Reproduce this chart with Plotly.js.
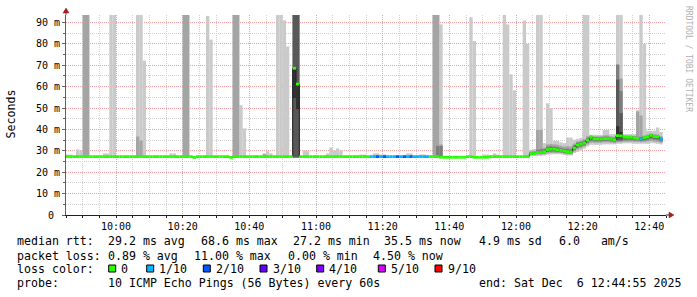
<!DOCTYPE html>
<html>
<head>
<meta charset="utf-8">
<script src="https://cdn.plot.ly/plotly-3.0.1.min.js"></script>
<style>html,body{margin:0;padding:0;background:#fff;}#chart{width:697px;height:297px;}</style>
</head>
<body>
<div id="chart"></div>
<script>
const _ = null;
// one value per 60 s step, starting 2025-12-06 09:45
const startTime = '2025-12-06 09:45';
const N = 179;

// median rtt (ms)
const median = [
27.3,27.3,27.3,27.3,27.3,27.3,27.3,27.3,27.3,27.3,
27.3,27.3,27.3,27.3,27.3,27.3,27.3,27.3,27.3,27.3,
27.3,27.3,27.3,27.3,27.3,27.3,27.3,27.3,27.3,27.3,
27.3,27.3,27.3,27.3,27.3,27.3,27.3,27.3,26.9,27.3,
27.3,27.3,27.3,27.3,27.3,27.3,27.3,27.3,27.3,26.9,
27.3,27.3,27.3,27.3,27.3,27.3,27.3,27.3,27.3,27.3,
27.3,27.3,27.3,27.3,27.3,27.3,27.3,27.3,68.6,61.2,
27.3,27.3,27.3,27.3,27.3,27.3,27.3,27.3,27.3,27.3,
27.3,27.3,27.3,27.3,27.3,27.3,27.3,27.3,27.3,27.3,
27.3,27.3,27.3,27.3,27.3,27.3,27.3,27.3,27.3,27.3,
27.3,27.3,27.3,27.3,27.3,27.3,27.3,27.3,27.3,27.3,
27.3,27.3,27.0,27.0,27.0,27.0,27.0,27.0,27.0,27.0,
27.3,27.3,27.0,27.0,27.0,27.0,27.0,27.3,27.3,27.3,
27.3,27.3,27.3,27.3,27.3,27.3,27.3,27.3,27.3,28.7,
28.7,29.2,29.2,29.6,30.6,30.8,30.8,30.5,30.2,29.9,
29.6,29.4,31.3,32.7,33.2,33.6,35.0,36.3,35.6,35.6,
35.6,35.7,35.7,35.5,35.2,37.1,37.0,36.4,36.3,36.3,
35.9,35.8,35.6,36.2,36.4,37.2,36.7,36.5,35.5
];

// lost pings out of 10 per step
const loss = [
0,0,0,0,0,0,0,0,0,0, 0,0,0,0,0,0,0,0,0,0,
0,0,0,0,0,0,0,0,0,0, 0,0,0,0,0,0,0,0,0,0,
0,0,0,0,0,0,0,0,0,0, 0,0,0,0,0,0,0,0,0,0,
0,0,0,0,0,0,0,0,0,0, 0,0,0,0,0,0,0,0,0,0,
0,0,0,0,0,0,0,0,0,0,
0,1,1,2,1,2,1,1,1,2,
1,2,1,2,1,1,1,1,1,0,
0,0,0,0,0,0,0,0,0,0, 0,0,0,0,0,0,0,0,0,0,
0,0,0,0,0,0,0,0,0,0, 0,0,0,0,0,0,0,0,0,0,
0,0,0,0,0,0,0,0,0,0, 0,0,0,0,0,0,0,0,0,0,
0,0,1,0,0,0,0,0,1
];

// smoke layer 1 (outer ping pair)
const smoke1Lo = [
27.0,27.0,_,27.0,27.0,27.0,27.0,_,_,_,
_,27.0,27.0,27.0,27.0,_,_,_,_,_,
_,27.0,27.0,27.0,_,_,_,_,_,_,
_,27.0,27.0,_,_,27.0,27.0,_,_,_,
_,_,27.0,27.0,_,_,_,_,_,_,
27.0,27.0,27.0,27.0,_,_,_,_,_,27.0,
27.0,27.0,_,27.0,27.0,27.0,27.0,_,26.9,26.9,
_,27.0,27.0,_,_,_,_,_,27.0,27.0,
27.0,27.0,27.0,_,_,_,_,_,27.0,27.0,
_,_,27.0,27.0,27.0,27.0,_,_,_,_,
_,_,27.0,27.0,_,_,27.0,27.0,_,_,
27.0,27.0,27.0,_,_,_,_,_,_,_,
_,27.0,27.0,_,_,27.0,27.0,_,27.0,27.0,
_,27.0,27.0,27.0,27.0,_,_,27.0,27.0,27.6,
27.6,27.6,27.6,27.8,28.2,28.3,28.4,28.4,28.4,28.0,
27.8,27.8,29.0,29.5,30.2,31.0,32.0,32.8,32.8,32.8,
32.8,33.0,33.0,33.0,33.0,33.3,33.3,33.5,33.5,33.5,
33.3,33.3,33.3,33.3,33.3,33.6,33.5,33.3,33.0
];
const smoke1Hi = [
28.3,28.3,_,30.6,30.2,100,100,_,_,_,
_,28.8,28.8,100,100,_,_,_,_,_,
_,100,100,72.2,_,_,_,_,_,_,
_,28.8,28.8,_,_,100,100,_,_,_,
_,_,93.1,82.0,_,_,_,_,_,_,
100,100,51.3,40.5,_,_,_,_,_,28.8,
29.8,28.8,_,100,100,91.0,78.8,_,100,100,
_,30.2,30.2,_,_,_,_,_,28.8,31.6,
30.2,31.1,30.2,_,_,_,_,_,28.3,28.3,
_,_,28.8,28.8,28.3,28.3,_,_,_,_,
_,_,28.8,28.8,_,_,28.3,28.3,_,_,
100,100,89.1,_,_,_,_,_,_,_,
_,92.5,81.3,_,_,28.3,28.3,_,28.8,28.3,
_,100,89.1,65.8,58.3,_,_,90.9,80.0,30.5,
30.8,100,100,33.6,52.2,50.0,34.7,34.7,34.0,33.6,
36.2,36.2,35.2,35.6,36.0,100,100,37.5,37.5,37.5,
37.5,39.8,39.8,37.8,37.8,100,100,37.8,37.8,37.8,
37.8,49.0,100,80.0,39.4,39.4,39.4,40.9,38.8
];

// smoke layer 2
const smoke2Lo = [
_,_,_,_,_,27.0,27.0,_,_,_,
_,_,_,_,_,_,_,_,_,_,
_,27.0,27.0,_,_,_,_,_,_,_,
_,_,_,_,_,27.0,27.0,_,_,_,
_,_,_,_,_,_,_,_,_,_,
27.0,27.0,_,_,_,_,_,_,_,27.0,
_,_,_,_,_,_,_,_,26.9,26.9,
_,_,_,_,_,_,_,_,_,_,
_,_,_,_,_,_,_,_,_,_,
_,_,_,_,_,_,_,_,_,_,
_,_,_,_,_,_,_,_,_,_,
27.0,27.0,27.0,_,_,_,_,_,_,_,
_,_,_,_,_,_,_,_,_,_,
_,_,_,_,_,_,_,_,_,28.0,
28.0,28.2,28.2,28.4,28.8,29.0,29.0,29.0,28.9,28.6,
28.4,28.3,29.8,30.6,31.2,32.0,33.0,33.8,33.8,33.8,
33.8,34.0,34.0,33.8,33.6,34.0,34.0,34.3,34.3,34.3,
34.2,34.2,34.0,34.2,34.4,34.6,34.4,34.2,33.8
];
const smoke2Hi = [
_,_,_,_,_,100,100,_,_,_,
_,_,_,_,_,_,_,_,_,_,
_,36.7,34.8,_,_,_,_,_,_,_,
_,_,_,_,_,100,100,_,_,_,
_,_,_,_,_,_,_,_,_,_,
100,100,_,_,_,_,_,_,_,28.5,
_,_,_,_,_,_,_,_,100,100,
_,_,_,_,_,_,_,_,_,_,
_,_,_,_,_,_,_,_,_,_,
_,_,_,_,_,_,_,_,_,_,
_,_,_,_,_,_,_,_,_,_,
100,100,33.0,_,_,_,_,_,_,_,
_,_,_,_,_,_,_,_,_,_,
_,_,_,_,_,_,_,_,_,29.8,
30.0,39.8,39.8,31.5,33.0,33.2,33.0,32.8,32.4,32.0,
32.2,32.0,33.4,34.4,34.8,35.5,36.8,37.2,36.8,36.8,
36.8,37.2,37.2,36.8,36.6,70.3,63.8,37.2,37.2,37.2,
37.0,48.4,46.5,37.2,37.6,38.2,37.8,37.6,36.8
];

// smoke layer 3
const smoke3Lo = [
_,_,_,_,_,_,_,_,_,_, _,_,_,_,_,_,_,_,_,_,
_,_,_,_,_,_,_,_,_,_, _,_,_,_,_,_,_,_,_,_,
_,_,_,_,_,_,_,_,_,_, _,_,_,_,_,_,_,_,_,_,
_,_,_,_,_,_,_,_,26.9,26.9,
_,_,_,_,_,_,_,_,_,_, _,_,_,_,_,_,_,_,_,_,
_,_,_,_,_,_,_,_,_,_, _,_,_,_,_,_,_,_,_,_,
_,27.0,27.0,_,_,_,_,_,_,_,
_,_,_,_,_,_,_,_,_,_,
_,_,_,_,_,_,_,_,_,28.2,
28.2,28.6,28.6,28.8,29.4,29.6,29.6,29.5,29.3,29.0,
28.8,28.7,30.3,31.4,32.0,32.6,33.8,34.6,34.4,34.4,
34.4,34.6,34.6,34.4,34.2,34.5,34.5,34.9,34.9,34.9,
34.8,34.8,34.6,34.8,35.0,35.5,35.2,35.0,34.4
];
const smoke3Hi = [
_,_,_,_,_,_,_,_,_,_, _,_,_,_,_,_,_,_,_,_,
_,_,_,_,_,_,_,_,_,_, _,_,_,_,_,_,_,_,_,_,
_,_,_,_,_,_,_,_,_,_, _,_,_,_,_,_,_,_,_,_,
_,_,_,_,_,_,_,_,100,100,
_,_,_,_,_,_,_,_,_,_, _,_,_,_,_,_,_,_,_,_,
_,_,_,_,_,_,_,_,_,_, _,_,_,_,_,_,_,_,_,_,
_,32.3,32.3,_,_,_,_,_,_,_,
_,_,_,_,_,_,_,_,_,_,
_,_,_,_,_,_,_,_,_,29.4,
29.5,30.5,30.8,30.8,32.0,32.2,32.0,31.8,31.4,31.0,
31.0,30.8,32.6,33.8,34.2,34.7,36.0,36.8,36.4,36.4,
36.4,36.6,36.6,36.2,36.0,70.3,58.0,36.9,36.9,36.9,
36.6,36.6,36.4,36.8,37.0,37.8,37.3,37.1,36.2
];

// smoke layer 4
const smoke4Lo = [
_,_,_,_,_,_,_,_,_,_, _,_,_,_,_,_,_,_,_,_,
_,_,_,_,_,_,_,_,_,_, _,_,_,_,_,_,_,_,_,_,
_,_,_,_,_,_,_,_,_,_, _,_,_,_,_,_,_,_,_,_,
_,_,_,_,_,_,_,_,26.9,26.9,
_,_,_,_,_,_,_,_,_,_, _,_,_,_,_,_,_,_,_,_,
_,_,_,_,_,_,_,_,_,_, _,_,_,_,_,_,_,_,_,_,
_,_,_,_,_,_,_,_,_,_, _,_,_,_,_,_,_,_,_,_,
_,_,_,_,_,_,_,_,_,28.4,
28.4,28.8,28.8,29.1,29.9,30.1,30.1,29.9,29.7,29.4,
29.1,29.0,30.7,32.0,32.6,33.0,34.4,35.4,35.0,35.0,
35.0,35.1,35.1,34.9,34.6,35.0,35.0,35.5,35.5,35.5,
35.2,35.2,35.0,35.4,35.6,36.2,35.8,35.6,34.9
];
const smoke4Hi = [
_,_,_,_,_,_,_,_,_,_, _,_,_,_,_,_,_,_,_,_,
_,_,_,_,_,_,_,_,_,_, _,_,_,_,_,_,_,_,_,_,
_,_,_,_,_,_,_,_,_,_, _,_,_,_,_,_,_,_,_,_,
_,_,_,_,_,_,_,_,100,100,
_,_,_,_,_,_,_,_,_,_, _,_,_,_,_,_,_,_,_,_,
_,_,_,_,_,_,_,_,_,_, _,_,_,_,_,_,_,_,_,_,
_,_,_,_,_,_,_,_,_,_, _,_,_,_,_,_,_,_,_,_,
_,_,_,_,_,_,_,_,_,29.1,
29.1,29.8,29.8,30.2,31.3,31.5,31.4,31.1,30.8,30.5,
30.2,30.0,32.0,33.3,33.8,34.2,35.6,36.5,36.1,36.1,
36.1,36.2,36.2,35.9,35.7,63.3,47.7,36.7,36.7,36.7,
36.3,36.3,36.1,36.6,36.8,37.6,37.1,36.9,35.9
];

// smoke layer 5 (inner ping pair)
const smoke5Lo = [
_,_,_,_,_,_,_,_,_,_, _,_,_,_,_,_,_,_,_,_,
_,_,_,_,_,_,_,_,_,_, _,_,_,_,_,_,_,_,_,_,
_,_,_,_,_,_,_,_,_,_, _,_,_,_,_,_,_,_,_,_,
_,_,_,_,_,_,_,_,54.7,49.5,
_,_,_,_,_,_,_,_,_,_, _,_,_,_,_,_,_,_,_,_,
_,_,_,_,_,_,_,_,_,_, _,_,_,_,_,_,_,_,_,_,
_,_,_,_,_,_,_,_,_,_, _,_,_,_,_,_,_,_,_,_,
_,_,_,_,_,_,_,_,_,_, _,_,_,_,_,_,_,_,_,_,
_,_,_,_,_,_,_,_,_,_,
_,_,_,_,_,36.0,36.0,_,_,_,
_,_,_,_,_,_,_,_,_
];
const smoke5Hi = [
_,_,_,_,_,_,_,_,_,_, _,_,_,_,_,_,_,_,_,_,
_,_,_,_,_,_,_,_,_,_, _,_,_,_,_,_,_,_,_,_,
_,_,_,_,_,_,_,_,_,_, _,_,_,_,_,_,_,_,_,_,
_,_,_,_,_,_,_,_,68.4,61.0,
_,_,_,_,_,_,_,_,_,_, _,_,_,_,_,_,_,_,_,_,
_,_,_,_,_,_,_,_,_,_, _,_,_,_,_,_,_,_,_,_,
_,_,_,_,_,_,_,_,_,_, _,_,_,_,_,_,_,_,_,_,
_,_,_,_,_,_,_,_,_,_, _,_,_,_,_,_,_,_,_,_,
_,_,_,_,_,_,_,_,_,_,
_,_,_,_,_,41.5,38.8,_,_,_,
_,_,_,_,_,_,_,_,_
];

const smokeColors = ['#cacaca', '#a4a4a4', '#7e7e7e', '#585858', '#323232'];
const lossColors = {0:'#26ff00', 1:'#00b8ff', 2:'#0059ff', 3:'#5e00ff', 4:'#7e00ff', 5:'#dd00ff', 9:'#ff0000'};
const lossLegend = [['0', 0], ['1/10', 1], ['2/10', 2], ['3/10', 3], ['4/10', 4], ['5/10', 5], ['9/10', 9]];

const yTickVals = [0, 10, 20, 30, 40, 50, 60, 70, 80, 90];
const yTickText = ['0\u00a0', '10 m', '20 m', '30 m', '40 m', '50 m', '60 m', '70 m', '80 m', '90 m'];

const legendLine1 = ['median rtt:', '29.2 ms avg', '68.6 ms max', '27.2 ms min', '35.5 ms now', '4.9 ms sd', '6.0   am/s'];
const legendLine2 = ['packet loss:', '0.89 % avg', '11.00 % max', '0.00 % min', '4.50 % now'];
const legendLine4 = ['probe:', '10 ICMP Echo Pings (56 Bytes) every 60s', 'end: Sat Dec  6 12:44:55 2025'];

// ---- build ----
function pad(n){ return (n < 10 ? '0' : '') + n; }
const t0 = new Date(startTime.replace(' ', 'T') + ':00Z').getTime();
function fmt(ms){ const d = new Date(ms); return d.getUTCFullYear() + '-' + pad(d.getUTCMonth()+1) + '-' + pad(d.getUTCDate()) + ' ' + pad(d.getUTCHours()) + ':' + pad(d.getUTCMinutes()) + ':' + pad(d.getUTCSeconds()); }
const times = [];
for (let i = 0; i < N; i++) times.push(fmt(t0 + i * 60000));
const rangeEnd = fmt(t0 + 180 * 60000);

const FONT = 'DejaVu Sans Mono';
const traces = [];
const layers = [[smoke1Lo, smoke1Hi], [smoke2Lo, smoke2Hi], [smoke3Lo, smoke3Hi], [smoke4Lo, smoke4Hi], [smoke5Lo, smoke5Hi]];
layers.forEach((l, k) => {
  const lo = l[0], hi = l[1];
  traces.push({
    type: 'bar', x: times,
    base: lo.map(v => v === null ? 0 : v),
    y: hi.map((v, i) => (v === null || lo[i] === null) ? null : v - lo[i]),
    width: 60000, offset: 0,
    marker: {color: smokeColors[k], line: {width: 0}},
    hoverinfo: 'skip'
  });
});
// thin dark connectors between consecutive median steps (drawn under the coloured median)
traces.push({
  type: 'bar', x: times,
  base: median.map((v, i) => i === 0 ? v : Math.min(v, median[i - 1])),
  y: median.map((v, i) => i === 0 ? 0 : Math.abs(v - median[i - 1])),
  width: 18000, offset: -9000,
  marker: {color: '#202020', line: {width: 0}},
  hoverinfo: 'skip'
});
const SW = 0.65;
traces.push({
  type: 'bar', x: times,
  base: median.map(v => v - SW),
  y: median.map(() => 2 * SW),
  width: 60000, offset: 0,
  marker: {color: loss.map(v => lossColors[v]), line: {width: 0}},
  hoverinfo: 'skip'
});

// pixel helpers (plot area: x 66..666, y 15..215)
const L = 66, W = 600, B = 215, H = 200;
const X = px => (px - L) / W;
const Y = py => (B - py) / H;

const annotations = [];
function ann(text, px, py, size, extra){
  annotations.push(Object.assign({
    text: text, xref: 'paper', yref: 'paper', x: X(px), y: Y(py),
    xanchor: 'left', yanchor: 'middle', showarrow: false, borderpad: 0,
    font: {family: FONT, size: size, color: '#000'}
  }, extra || {}));
}
const LF = 11.6;
const l1x = [16, 107, 199.5, 291.5, 383, 478, 558];
legendLine1.forEach((t, i) => ann(t, l1x[i], 241, LF));
const l2x = [16, 107, 193.3, 286.7, 372.3];
legendLine2.forEach((t, i) => ann(t, l2x[i], 255.5, LF));
ann('loss color:', 16, 269.3, LF);
const boxX = [108.7, 146.7, 203.3, 260, 316.7, 378.3, 435];
const shapes = [];
lossLegend.forEach((e, i) => {
  shapes.push({type: 'rect', xref: 'paper', yref: 'paper', x0: X(boxX[i]), x1: X(boxX[i] + 7), y0: Y(272), y1: Y(265),
    fillcolor: lossColors[e[1]], line: {color: '#000', width: 1}});
  ann(e[0], boxX[i] + 11.5, 269.3, LF);
});
const l4x = [16, 107.3, 478.3];
legendLine4.forEach((t, i) => ann(t, l4x[i], 283.3, LF));
ann('Seconds', 10.5, 114, LF, {xanchor: 'center', textangle: -90});
ann('RRDTOOL / TOBI OETIKER', 688, 59, 8, {xanchor: 'center', textangle: 90, font: {family: FONT, size: 8, color: '#b0b0b0'}});

// axis extensions and arrows
const ARROW = '#a02020';
shapes.push({type: 'line', xref: 'paper', yref: 'paper', x0: X(66), x1: X(66), y0: Y(15), y1: Y(12), line: {color: '#606060', width: 1}});
shapes.push({type: 'line', xref: 'paper', yref: 'paper', x0: X(666), x1: X(670), y0: Y(215), y1: Y(215), line: {color: '#202020', width: 1}});
shapes.push({type: 'path', xref: 'paper', yref: 'paper',
  path: `M ${X(66)} ${Y(8)} L ${X(63)} ${Y(13)} L ${X(69)} ${Y(13)} Z`, fillcolor: ARROW, line: {color: ARROW, width: 0.5}});
shapes.push({type: 'path', xref: 'paper', yref: 'paper',
  path: `M ${X(674)} ${Y(215)} L ${X(669)} ${Y(212)} L ${X(669)} ${Y(218)} Z`, fillcolor: ARROW, line: {color: ARROW, width: 0.5}});

const MAJ = '#f0a0a0', MIN = '#d0d0d0', DOT = '1px,1px';
const layout = {
  width: 697, height: 297,
  margin: {l: L, r: 697 - L - W, t: 15, b: 297 - B, pad: 0},
  paper_bgcolor: '#ffffff', plot_bgcolor: '#ffffff',
  barmode: 'overlay', showlegend: false,
  xaxis: {
    type: 'date', range: [times[0], rangeEnd],
    tick0: '2025-12-06 10:00:00', dtick: 1200000, tickformat: '%H:%M',
    showgrid: true, gridcolor: MAJ, griddash: DOT, gridwidth: 1,
    minor: {tick0: '2025-12-06 10:00:00', dtick: 300000, showgrid: true, gridcolor: MIN, griddash: DOT, gridwidth: 1, ticks: 'outside', ticklen: 2, tickcolor: '#202020'},
    showline: true, linecolor: '#202020', linewidth: 1,
    ticks: 'outside', ticklen: 2, tickcolor: '#202020',
    tickfont: {family: FONT, size: 10, color: '#000'},
    zeroline: false, fixedrange: true
  },
  yaxis: {
    range: [0, 93.5], tickmode: 'array', tickvals: yTickVals, ticktext: yTickText,
    showgrid: true, gridcolor: MAJ, griddash: DOT, gridwidth: 1,
    minor: {dtick: 5, tick0: 0, showgrid: true, gridcolor: MIN, griddash: DOT, gridwidth: 1, ticks: 'outside', ticklen: 2, tickcolor: '#606060'},
    showline: true, linecolor: '#606060', linewidth: 1,
    ticks: 'outside', ticklen: 3, tickcolor: '#606060',
    tickfont: {family: FONT, size: 10, color: '#000'},
    zeroline: false, fixedrange: true
  },
  annotations: annotations,
  shapes: shapes
};
Plotly.newPlot('chart', traces, layout, {staticPlot: true, displayModeBar: false});
</script>
</body>
</html>
